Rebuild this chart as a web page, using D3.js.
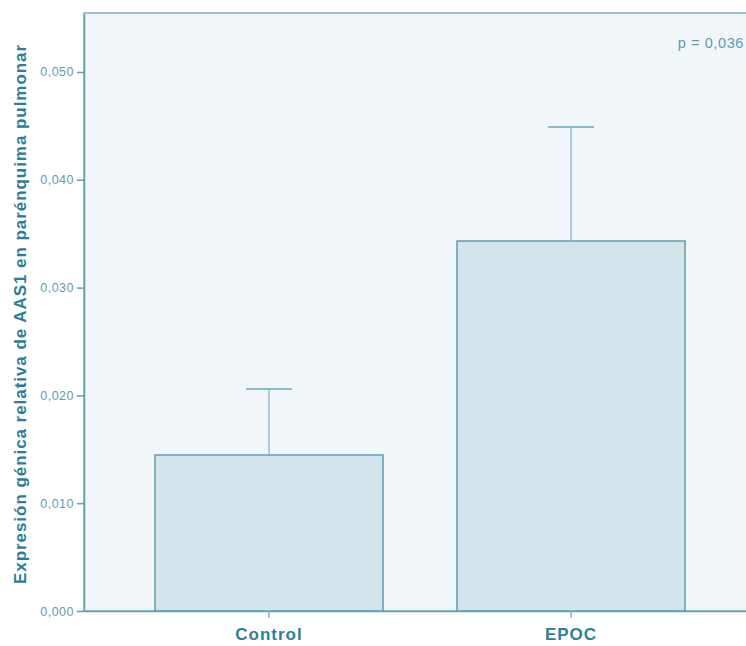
<!DOCTYPE html>
<html>
<head>
<meta charset="utf-8">
<script src="https://cdn.jsdelivr.net/npm/d3@7"></script>
<style>
  html, body { margin: 0; padding: 0; background: #ffffff; }
  svg { display: block; }
</style>
</head>
<body>
<svg id="chart" width="746" height="646"></svg>
<script>
// Group means and upper error limits (relative AAS1 expression)
const categories = ["Control", "EPOC"];
const means = [0.01447, 0.03432];
const upperErrors = [0.02059, 0.04490];
const yTicks = [0, 0.01, 0.02, 0.03, 0.04, 0.05];
const yTitle = "Expresión génica relativa de AAS1 en parénquima pulmonar";
const pLabel = "p = 0,036";

const svg = d3.select("#chart");
const plotLeft = 84, plotTop = 13, plotBottom = 611, plotRight = 756;
const font = "Liberation Sans, Arial, sans-serif";

const x = d3.scaleBand()
  .domain(categories)
  .range([plotLeft, plotRight])
  .paddingInner(0.245)
  .paddingOuter(0.235);

const y = d3.scaleLinear()
  .domain([0, 0.05547])
  .range([plotBottom, plotTop]);

const fmt = v => d3.format(".3f")(v).replace(".", ",");

// plot background and frame
svg.append("rect")
  .attr("x", plotLeft).attr("y", plotTop)
  .attr("width", plotRight - plotLeft).attr("height", plotBottom - plotTop)
  .attr("fill", "#f0f6f9")
  .attr("stroke", "#7fb3c1")
  .attr("stroke-width", 1.5);

// bars
svg.append("g").selectAll("rect")
  .data(categories)
  .join("rect")
  .attr("x", d => x(d))
  .attr("y", (d, i) => y(means[i]))
  .attr("width", x.bandwidth())
  .attr("height", (d, i) => y(0) - y(means[i]))
  .attr("fill", "#d3e5eb")
  .attr("stroke", "#5e9fb0")
  .attr("stroke-width", 1.5);

// error bars
const eb = svg.append("g");
eb.selectAll("line.stem")
  .data(categories)
  .join("line")
  .attr("class", "stem")
  .attr("x1", d => x(d) + x.bandwidth() / 2)
  .attr("x2", d => x(d) + x.bandwidth() / 2)
  .attr("y1", (d, i) => y(means[i]))
  .attr("y2", (d, i) => y(upperErrors[i]))
  .attr("stroke", "#8dbfcc")
  .attr("stroke-width", 1.5);
eb.selectAll("line.cap")
  .data(categories)
  .join("line")
  .attr("class", "cap")
  .attr("x1", d => x(d) + x.bandwidth() / 2 - 23)
  .attr("x2", d => x(d) + x.bandwidth() / 2 + 23)
  .attr("y1", (d, i) => y(upperErrors[i]))
  .attr("y2", (d, i) => y(upperErrors[i]))
  .attr("stroke", "#6fa9b8")
  .attr("stroke-width", 1.5);

// y axis
const yAxis = svg.append("g")
  .attr("transform", `translate(${plotLeft},0)`)
  .call(d3.axisLeft(y).tickValues(yTicks).tickFormat(fmt).tickSize(7).tickSizeOuter(0).tickPadding(3));
yAxis.select(".domain").attr("stroke", "#5e9fb0").attr("stroke-width", 1.5);
yAxis.selectAll(".tick line").attr("stroke", "#5e9fb0").attr("stroke-width", 1.5);
yAxis.selectAll(".tick text")
  .attr("fill", "#5d9db0")
  .attr("font-family", font)
  .attr("font-size", 12.5)
  .attr("letter-spacing", 0.5);

// x axis
const xAxis = svg.append("g")
  .attr("transform", `translate(0,${plotBottom})`)
  .call(d3.axisBottom(x).tickSize(7).tickPadding(10).tickSizeOuter(0));
xAxis.select(".domain").attr("stroke", "#5e9fb0").attr("stroke-width", 1.5);
xAxis.selectAll(".tick line").attr("stroke", "#7fb3c1").attr("stroke-width", 1.5);
xAxis.selectAll(".tick text")
  .attr("fill", "#2f8096")
  .attr("font-family", font)
  .attr("font-weight", "bold")
  .attr("font-size", 17)
  .attr("letter-spacing", 1);

// y axis title
svg.append("text")
  .attr("transform", `translate(26,${(plotTop + plotBottom) / 2 + 2}) rotate(-90)`)
  .attr("text-anchor", "middle")
  .attr("fill", "#2a7d94")
  .attr("font-family", font)
  .attr("font-weight", "bold")
  .attr("font-size", 17)
  .attr("letter-spacing", 0.95)
  .text(yTitle);

// significance label
svg.append("text")
  .attr("x", 744)
  .attr("y", 48)
  .attr("text-anchor", "end")
  .attr("fill", "#5d9db0")
  .attr("font-family", font)
  .attr("font-size", 14.5)
  .attr("letter-spacing", 0.6)
  .text(pLabel);
</script>
</body>
</html>
